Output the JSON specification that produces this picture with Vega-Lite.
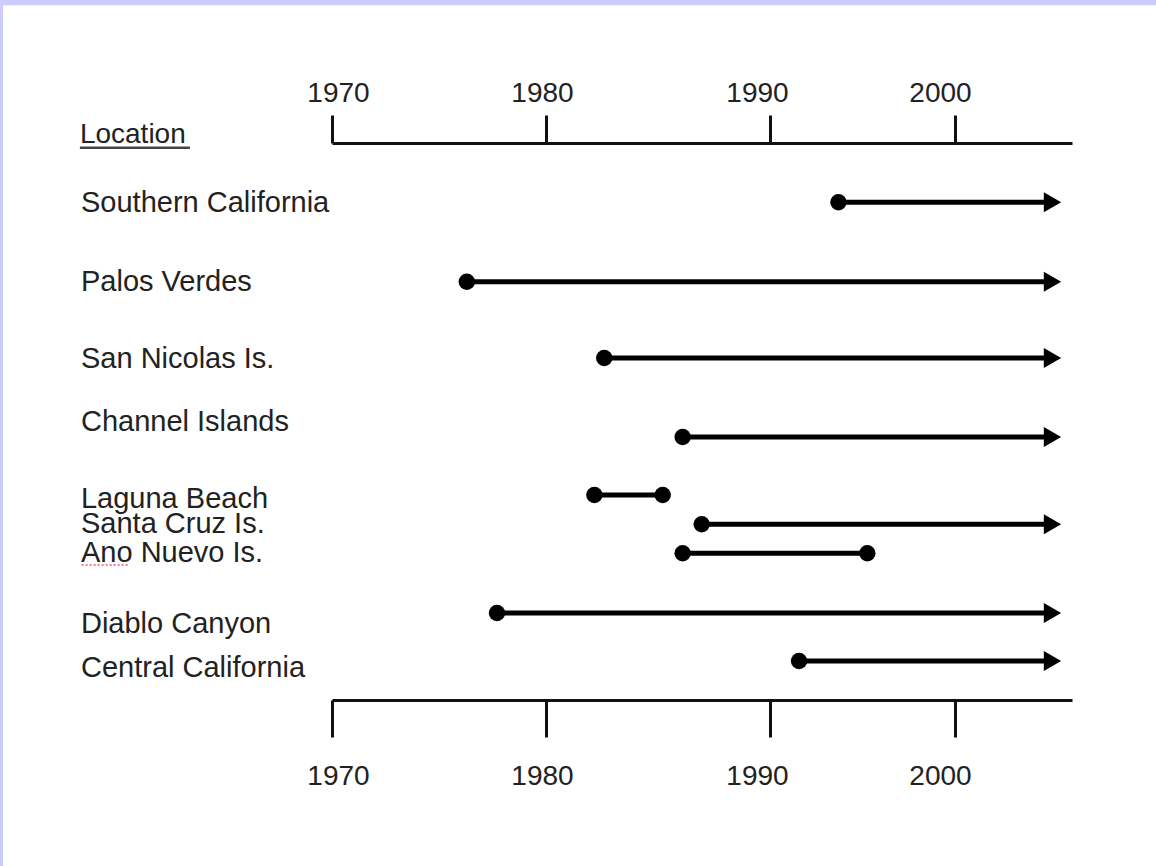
{
  "$schema": "https://vega.github.io/schema/vega-lite/v6.json",
  "width": 740,
  "height": 557,
  "autosize": {"type": "none"},
  "padding": {"left": 332, "top": 143, "right": 84, "bottom": 166},
  "background": "#ccccff",
  "config": {"view": {"stroke": null}, "font": "Liberation Sans"},
  "datasets": {
    "spans": [
      {"location": "Southern California", "start": 1993.7, "end": 2005, "ongoing": true, "track": 0.745, "labelTrack": 0.871},
      {"location": "Palos Verdes", "start": 1976.3, "end": 2005, "ongoing": true, "track": 1.743, "labelTrack": 1.86},
      {"location": "San Nicolas Is.", "start": 1982.6, "end": 2005, "ongoing": true, "track": 2.702, "labelTrack": 2.831},
      {"location": "Channel Islands", "start": 1986.1, "end": 2005, "ongoing": true, "track": 3.695, "labelTrack": 3.616},
      {"location": "Laguna Beach", "start": 1982.16, "end": 1985.21, "ongoing": false, "track": 4.424, "labelTrack": 4.583},
      {"location": "Santa Cruz Is.", "start": 1986.95, "end": 2005, "ongoing": true, "track": 4.792, "labelTrack": 4.905},
      {"location": "Ano Nuevo Is.", "start": 1986.1, "end": 1995.26, "ongoing": false, "track": 5.156, "labelTrack": 5.262},
      {"location": "Diablo Canyon", "start": 1977.71, "end": 2005, "ongoing": true, "track": 5.907, "labelTrack": 6.162},
      {"location": "Central California", "start": 1991.57, "end": 2005, "ongoing": true, "track": 6.51, "labelTrack": 6.717}
    ]
  },
  "layer": [
    {
      "data": {"values": [{}]},
      "mark": {"type": "rect", "fill": "#ffffff", "clip": false},
      "encoding": {
        "x": {"datum": 1954.63, "type": "quantitative", "axis": null, "scale": {"domain": [1970, 1980, 1990, 2000, 2006], "range": [0, 214, 438, 623, 740], "nice": false, "zero": false}},
        "x2": {"datum": 2100},
        "y": {"datum": -1.73, "type": "quantitative", "axis": null, "scale": {"domain": [0, 7], "reverse": true, "nice": false, "zero": false}},
        "y2": {"datum": 20}
      }
    },
    {
      "data": {"values": [{}]},
      "mark": {"type": "rule", "color": "#444444", "strokeWidth": 2.5},
      "encoding": {
        "x": {"datum": 1958.22, "type": "quantitative", "axis": null, "scale": {"domain": [1970, 1980, 1990, 2000, 2006], "range": [0, 214, 438, 623, 740], "nice": false, "zero": false}},
        "x2": {"datum": 1963.36},
        "y": {"datum": 0.059, "type": "quantitative", "axis": null, "scale": {"domain": [0, 7], "reverse": true, "nice": false, "zero": false}}
      }
    },
    {
      "data": {"values": [{}]},
      "mark": {"type": "rule", "color": "#e06060", "strokeWidth": 1.5, "strokeDash": [2, 2]},
      "encoding": {
        "x": {"datum": 1958.3, "type": "quantitative", "axis": null, "scale": {"domain": [1970, 1980, 1990, 2000, 2006], "range": [0, 214, 438, 623, 740], "nice": false, "zero": false}},
        "x2": {"datum": 1960.47},
        "y": {"datum": 5.303, "type": "quantitative", "axis": null, "scale": {"domain": [0, 7], "reverse": true, "nice": false, "zero": false}}
      }
    },
    {
      "data": {"name": "spans"},
      "mark": {"type": "rule", "color": "#000000", "strokeWidth": 5},
      "encoding": {
        "x": {
          "field": "start", "type": "quantitative",
          "scale": {"domain": [1970, 1980, 1990, 2000, 2006], "range": [0, 214, 438, 623, 740], "nice": false, "zero": false},
          "axis": {
            "orient": "top", "zindex": 1, "values": [1970, 1980, 1990, 2000], "format": "d", "title": null, "grid": false,
            "domainColor": "#111111", "domainWidth": 3, "tickColor": "#111111", "tickWidth": 3, "tickSize": 28,
            "labelFontSize": 28, "labelFont": "Liberation Sans", "labelColor": "#222222", "labelPadding": 14,
            "labelBaseline": "alphabetic", "labelFlush": false, "labelOverlap": false,
            "labelOffset": {"condition": [{"test": "datum.value === 1970", "value": 6}, {"test": "datum.value === 1990", "value": -13}, {"test": "datum.value === 2000", "value": -15}], "value": -4}
          }
        },
        "x2": {"field": "end"},
        "y": {"field": "track", "type": "quantitative", "axis": null, "scale": {"domain": [0, 7], "reverse": true, "nice": false, "zero": false}}
      }
    },
    {
      "data": {"name": "spans"},
      "mark": {"type": "point", "shape": "circle", "filled": true, "size": 270, "color": "#000000", "opacity": 1},
      "encoding": {
        "x": {
          "field": "start", "type": "quantitative",
          "scale": {"domain": [1970, 1980, 1990, 2000, 2006], "range": [0, 214, 438, 623, 740], "nice": false, "zero": false},
          "axis": {
            "orient": "bottom", "zindex": 1, "values": [1970, 1980, 1990, 2000], "format": "d", "title": null, "grid": false,
            "domainColor": "#111111", "domainWidth": 3, "tickColor": "#111111", "tickWidth": 3, "tickSize": 37,
            "labelFontSize": 28, "labelFont": "Liberation Sans", "labelColor": "#222222", "labelPadding": 47,
            "labelBaseline": "alphabetic", "labelFlush": false, "labelOverlap": false,
            "labelOffset": {"condition": [{"test": "datum.value === 1970", "value": 6}, {"test": "datum.value === 1990", "value": -13}, {"test": "datum.value === 2000", "value": -15}], "value": -4}
          }
        },
        "y": {"field": "track", "type": "quantitative", "axis": null, "scale": {"domain": [0, 7], "reverse": true, "nice": false, "zero": false}}
      }
    },
    {
      "data": {"name": "spans"},
      "transform": [{"filter": "!datum.ongoing"}],
      "mark": {"type": "point", "shape": "circle", "filled": true, "size": 270, "color": "#000000", "opacity": 1},
      "encoding": {
        "x": {"field": "end", "type": "quantitative", "axis": null, "scale": {"domain": [1970, 1980, 1990, 2000, 2006], "range": [0, 214, 438, 623, 740], "nice": false, "zero": false}},
        "y": {"field": "track", "type": "quantitative", "axis": null, "scale": {"domain": [0, 7], "reverse": true, "nice": false, "zero": false}}
      }
    },
    {
      "data": {"name": "spans"},
      "transform": [{"filter": "datum.ongoing"}],
      "mark": {"type": "point", "shape": "triangle-right", "filled": true, "size": 400, "color": "#000000", "opacity": 1},
      "encoding": {
        "x": {"field": "end", "type": "quantitative", "axis": null, "scale": {"domain": [1970, 1980, 1990, 2000, 2006], "range": [0, 214, 438, 623, 740], "nice": false, "zero": false}},
        "y": {"field": "track", "type": "quantitative", "axis": null, "scale": {"domain": [0, 7], "reverse": true, "nice": false, "zero": false}}
      }
    },
    {
      "data": {"name": "spans"},
      "mark": {"type": "text", "align": "left", "baseline": "alphabetic", "fontSize": 29, "font": "Liberation Sans", "color": "#222222"},
      "encoding": {
        "x": {"datum": 1958.27, "type": "quantitative", "axis": null, "scale": {"domain": [1970, 1980, 1990, 2000, 2006], "range": [0, 214, 438, 623, 740], "nice": false, "zero": false}},
        "y": {"field": "labelTrack", "type": "quantitative", "axis": null, "scale": {"domain": [0, 7], "reverse": true, "nice": false, "zero": false}},
        "text": {"field": "location"}
      }
    },
    {
      "data": {"values": [{"header": "Location"}]},
      "mark": {"type": "text", "align": "left", "baseline": "alphabetic", "fontSize": 28, "font": "Liberation Sans", "color": "#222222"},
      "encoding": {
        "x": {"datum": 1958.22, "type": "quantitative", "axis": null, "scale": {"domain": [1970, 1980, 1990, 2000, 2006], "range": [0, 214, 438, 623, 740], "nice": false, "zero": false}},
        "y": {"datum": 0.004, "type": "quantitative", "axis": null, "scale": {"domain": [0, 7], "reverse": true, "nice": false, "zero": false}},
        "text": {"field": "header"}
      }
    }
  ]
}
